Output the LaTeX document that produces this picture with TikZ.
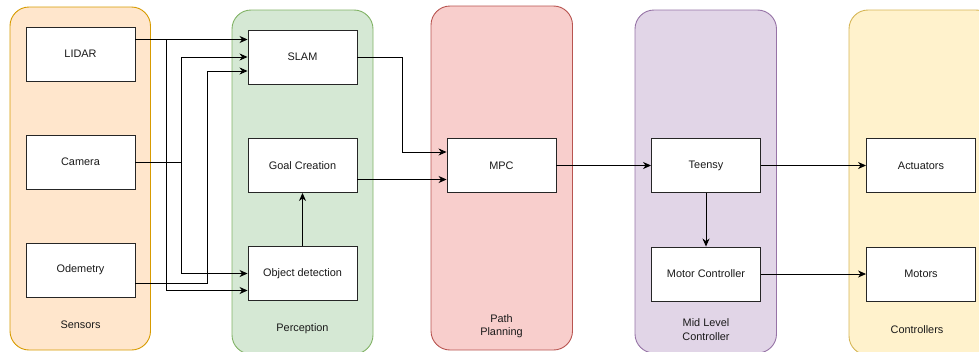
\documentclass[tikz,border=0pt]{standalone}
\usepackage{fontspec}
\setmainfont{Liberation Sans}
\usetikzlibrary{arrows.meta,calc}
\definecolor{sfill}{HTML}{FFE6CC}\definecolor{sdraw}{HTML}{D79B00}
\definecolor{pfill}{HTML}{D5E8D4}\definecolor{pdraw}{HTML}{82B366}
\definecolor{rfill}{HTML}{F8CECC}\definecolor{rdraw}{HTML}{B85450}
\definecolor{mfill}{HTML}{E1D5E7}\definecolor{mdraw}{HTML}{9673A6}
\definecolor{cfill}{HTML}{FFF2CC}\definecolor{cdraw}{HTML}{D6B656}
\definecolor{txt}{HTML}{1A1A1A}
\begin{document}
\begin{tikzpicture}[x=1pt,y=-1pt,
  every node/.style={font=\fontsize{10.9}{13.5}\selectfont,text=txt},
  group/.style={rounded corners=19pt,line width=0.9pt},
  blk/.style={draw=black!85,fill=white,line width=0.9pt,minimum width=109pt,minimum height=54pt,inner sep=0pt},
  arr/.style={draw=black,line width=0.9pt,-{Stealth[length=8pt,width=7pt,inset=2.5pt]}},
  lbl/.style={align=center,inner sep=0pt}]
\useasboundingbox (0,0) rectangle (979,351);
% containers
\draw[group,fill=sfill,draw=sdraw] (10,7) rectangle (150.5,350);
\draw[group,fill=pfill,draw=pdraw] (232,10) rectangle (373,354);
\draw[group,fill=rfill,draw=rdraw] (431,6) rectangle (572.5,350);
\draw[group,fill=mfill,draw=mdraw] (635,10) rectangle (776.5,353);
\draw[group,fill=cfill,draw=cdraw] (849,10) rectangle (995,355);
% container labels
\node[lbl] (lsens) at (80.5,325) {Sensors};
\node[lbl] (lperc) at (302.5,329) {Perception};
\node[lbl] (lpath) at (501.5,326) {Path\\Planning};
\node[lbl] (lmid) at (706,329.5) {Mid Level\\Controller};
\node[lbl] (lctrl) at (917,330) {Controllers};
% blocks
\node[blk] (lidar) at (80.5,54) {LIDAR};
\node[blk] (camera) at (80.5,162) {Camera};
\node[blk] (odo) at (80.5,270) {Odemetry};
\node[blk] (slam) at (302.5,57) {SLAM};
\node[blk] (goal) at (302.5,165.5) {Goal Creation};
\node[blk] (obj) at (302.5,273.5) {Object detection};
\node[blk] (mpc) at (501.5,165.5) {MPC};
\node[blk] (teensy) at (706,165.5) {Teensy};
\node[blk] (motorc) at (706,274) {Motor Controller};
\node[blk] (act) at (921,165.5) {Actuators};
\node[blk] (motors) at (921,274) {Motors};
% connectors
\draw[arr] ([yshift=14.5pt]lidar.east) -- ([yshift=17.5pt]slam.west);
\draw[arr] ([yshift=14.5pt]lidar.east) -- ++(30.5,0) |- ([yshift=-17pt]obj.west);
\draw[arr] (camera.east) -- ++(46,0) |- (slam.west);
\draw[arr] (camera.east) -- ++(46,0) |- (obj.west);
\draw[arr] ([yshift=-13.5pt]odo.east) -- ++(72,0) |- ([yshift=-14pt]slam.west);
\draw[arr] (slam.east) -- ++(45,0) |- ([yshift=13.5pt]mpc.west);
\draw[arr] ([yshift=-14pt]goal.east) -- ([yshift=-14pt]mpc.west);
\draw[arr] (obj.north) -- (goal.south);
\draw[arr] (mpc.east) -- (teensy.west);
\draw[arr] (teensy.east) -- (act.west);
\draw[arr] (teensy.south) -- (motorc.north);
\draw[arr] (motorc.east) -- (motors.west);
\end{tikzpicture}
\end{document}
